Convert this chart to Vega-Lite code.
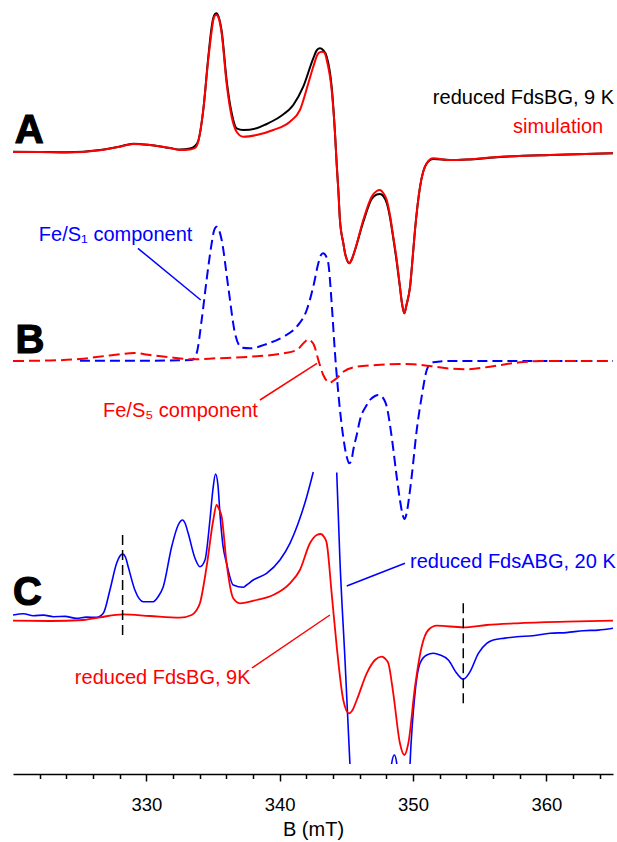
{
  "$schema": "https://vega.github.io/schema/vega-lite/v6.json",
  "autosize": {"type": "none"},
  "width": 600,
  "height": 764,
  "padding": {"left": 13, "top": 0, "right": 4, "bottom": 78},
  "background": "white",
  "config": {"view": {"stroke": null}, "font": "Liberation Sans"},
  "datasets": {
    "curves": [
      {"curve": "reduced FdsBG, 9 K", "B": 320.0, "I": 612.3}, {"curve": "reduced FdsBG, 9 K", "B": 322.02, "I": 612}, {"curve": "reduced FdsBG, 9 K", "B": 324.02, "I": 611.7}, {"curve": "reduced FdsBG, 9 K", "B": 326.52, "I": 614}, {"curve": "reduced FdsBG, 9 K", "B": 328.02, "I": 617.5}, {"curve": "reduced FdsBG, 9 K", "B": 329.02, "I": 620.3}, {"curve": "reduced FdsBG, 9 K", "B": 330.27, "I": 619}, {"curve": "reduced FdsBG, 9 K", "B": 331.77, "I": 616}, {"curve": "reduced FdsBG, 9 K", "B": 332.52, "I": 614.5}, {"curve": "reduced FdsBG, 9 K", "B": 333.27, "I": 615.5}, {"curve": "reduced FdsBG, 9 K", "B": 333.65, "I": 618}, {"curve": "reduced FdsBG, 9 K", "B": 333.89, "I": 623}, {"curve": "reduced FdsBG, 9 K", "B": 334.27, "I": 654}, {"curve": "reduced FdsBG, 9 K", "B": 334.64, "I": 706}, {"curve": "reduced FdsBG, 9 K", "B": 334.9, "I": 737}, {"curve": "reduced FdsBG, 9 K", "B": 335.02, "I": 746}, {"curve": "reduced FdsBG, 9 K", "B": 335.15, "I": 750}, {"curve": "reduced FdsBG, 9 K", "B": 335.27, "I": 750.7}, {"curve": "reduced FdsBG, 9 K", "B": 335.4, "I": 748}, {"curve": "reduced FdsBG, 9 K", "B": 335.65, "I": 733}, {"curve": "reduced FdsBG, 9 K", "B": 336.02, "I": 684}, {"curve": "reduced FdsBG, 9 K", "B": 336.4, "I": 651}, {"curve": "reduced FdsBG, 9 K", "B": 336.77, "I": 635.7}, {"curve": "reduced FdsBG, 9 K", "B": 337.27, "I": 634}, {"curve": "reduced FdsBG, 9 K", "B": 338.27, "I": 635.7}, {"curve": "reduced FdsBG, 9 K", "B": 339.02, "I": 640}, {"curve": "reduced FdsBG, 9 K", "B": 340.02, "I": 647.3}, {"curve": "reduced FdsBG, 9 K", "B": 341.02, "I": 659}, {"curve": "reduced FdsBG, 9 K", "B": 341.77, "I": 677.3}, {"curve": "reduced FdsBG, 9 K", "B": 342.52, "I": 705.7}, {"curve": "reduced FdsBG, 9 K", "B": 342.8, "I": 714}, {"curve": "reduced FdsBG, 9 K", "B": 343.02, "I": 715.7}, {"curve": "reduced FdsBG, 9 K", "B": 343.25, "I": 714}, {"curve": "reduced FdsBG, 9 K", "B": 343.53, "I": 707.3}, {"curve": "reduced FdsBG, 9 K", "B": 343.9, "I": 677.3}, {"curve": "reduced FdsBG, 9 K", "B": 344.15, "I": 630.7}, {"curve": "reduced FdsBG, 9 K", "B": 344.28, "I": 599}, {"curve": "reduced FdsBG, 9 K", "B": 344.4, "I": 574}, {"curve": "reduced FdsBG, 9 K", "B": 344.52, "I": 544}, {"curve": "reduced FdsBG, 9 K", "B": 344.77, "I": 521}, {"curve": "reduced FdsBG, 9 K", "B": 344.9, "I": 511}, {"curve": "reduced FdsBG, 9 K", "B": 345.05, "I": 504}, {"curve": "reduced FdsBG, 9 K", "B": 345.22, "I": 500.7}, {"curve": "reduced FdsBG, 9 K", "B": 345.42, "I": 505}, {"curve": "reduced FdsBG, 9 K", "B": 345.65, "I": 514}, {"curve": "reduced FdsBG, 9 K", "B": 346.27, "I": 542}, {"curve": "reduced FdsBG, 9 K", "B": 346.9, "I": 565}, {"curve": "reduced FdsBG, 9 K", "B": 347.28, "I": 569.5}, {"curve": "reduced FdsBG, 9 K", "B": 347.52, "I": 570}, {"curve": "reduced FdsBG, 9 K", "B": 347.77, "I": 568}, {"curve": "reduced FdsBG, 9 K", "B": 348.03, "I": 561}, {"curve": "reduced FdsBG, 9 K", "B": 348.27, "I": 547}, {"curve": "reduced FdsBG, 9 K", "B": 348.52, "I": 526}, {"curve": "reduced FdsBG, 9 K", "B": 348.78, "I": 502}, {"curve": "reduced FdsBG, 9 K", "B": 349.02, "I": 477}, {"curve": "reduced FdsBG, 9 K", "B": 349.17, "I": 461}, {"curve": "reduced FdsBG, 9 K", "B": 349.35, "I": 450.7}, {"curve": "reduced FdsBG, 9 K", "B": 349.51, "I": 459}, {"curve": "reduced FdsBG, 9 K", "B": 349.78, "I": 477.3}, {"curve": "reduced FdsBG, 9 K", "B": 349.96, "I": 504}, {"curve": "reduced FdsBG, 9 K", "B": 350.15, "I": 534}, {"curve": "reduced FdsBG, 9 K", "B": 350.53, "I": 577.3}, {"curve": "reduced FdsBG, 9 K", "B": 351.03, "I": 600.7}, {"curve": "reduced FdsBG, 9 K", "B": 351.52, "I": 605}, {"curve": "reduced FdsBG, 9 K", "B": 352.78, "I": 604}, {"curve": "reduced FdsBG, 9 K", "B": 354.03, "I": 604.5}, {"curve": "reduced FdsBG, 9 K", "B": 356.53, "I": 607}, {"curve": "reduced FdsBG, 9 K", "B": 360.28, "I": 609}, {"curve": "reduced FdsBG, 9 K", "B": 365.0, "I": 610.7},

      {"curve": "simulation", "B": 320.0, "I": 612}, {"curve": "simulation", "B": 322.02, "I": 612}, {"curve": "simulation", "B": 324.02, "I": 611.5}, {"curve": "simulation", "B": 326.52, "I": 613.8}, {"curve": "simulation", "B": 328.02, "I": 617.3}, {"curve": "simulation", "B": 329.02, "I": 620}, {"curve": "simulation", "B": 330.27, "I": 619}, {"curve": "simulation", "B": 331.77, "I": 616}, {"curve": "simulation", "B": 332.52, "I": 614}, {"curve": "simulation", "B": 333.27, "I": 614.5}, {"curve": "simulation", "B": 333.65, "I": 616}, {"curve": "simulation", "B": 333.89, "I": 622.3}, {"curve": "simulation", "B": 334.27, "I": 654}, {"curve": "simulation", "B": 334.64, "I": 704}, {"curve": "simulation", "B": 334.9, "I": 733}, {"curve": "simulation", "B": 335.02, "I": 744}, {"curve": "simulation", "B": 335.15, "I": 748.5}, {"curve": "simulation", "B": 335.27, "I": 749}, {"curve": "simulation", "B": 335.4, "I": 747}, {"curve": "simulation", "B": 335.65, "I": 730.7}, {"curve": "simulation", "B": 336.02, "I": 680.7}, {"curve": "simulation", "B": 336.4, "I": 647.3}, {"curve": "simulation", "B": 336.77, "I": 632.3}, {"curve": "simulation", "B": 337.27, "I": 627.3}, {"curve": "simulation", "B": 338.27, "I": 629}, {"curve": "simulation", "B": 339.52, "I": 634}, {"curve": "simulation", "B": 340.77, "I": 642.3}, {"curve": "simulation", "B": 341.52, "I": 654}, {"curve": "simulation", "B": 342.15, "I": 680.7}, {"curve": "simulation", "B": 342.52, "I": 697.3}, {"curve": "simulation", "B": 342.9, "I": 710.7}, {"curve": "simulation", "B": 343.15, "I": 712.3}, {"curve": "simulation", "B": 343.35, "I": 711.5}, {"curve": "simulation", "B": 343.53, "I": 704}, {"curve": "simulation", "B": 343.9, "I": 674}, {"curve": "simulation", "B": 344.15, "I": 630.7}, {"curve": "simulation", "B": 344.28, "I": 599}, {"curve": "simulation", "B": 344.4, "I": 574}, {"curve": "simulation", "B": 344.52, "I": 544}, {"curve": "simulation", "B": 344.77, "I": 521}, {"curve": "simulation", "B": 344.9, "I": 511}, {"curve": "simulation", "B": 345.05, "I": 504}, {"curve": "simulation", "B": 345.22, "I": 500.7}, {"curve": "simulation", "B": 345.42, "I": 505}, {"curve": "simulation", "B": 345.65, "I": 514}, {"curve": "simulation", "B": 346.27, "I": 544}, {"curve": "simulation", "B": 346.9, "I": 567.3}, {"curve": "simulation", "B": 347.28, "I": 573}, {"curve": "simulation", "B": 347.52, "I": 574}, {"curve": "simulation", "B": 347.77, "I": 571}, {"curve": "simulation", "B": 348.03, "I": 564}, {"curve": "simulation", "B": 348.27, "I": 549}, {"curve": "simulation", "B": 348.52, "I": 527.3}, {"curve": "simulation", "B": 348.78, "I": 504}, {"curve": "simulation", "B": 349.02, "I": 477.3}, {"curve": "simulation", "B": 349.17, "I": 461}, {"curve": "simulation", "B": 349.35, "I": 450.7}, {"curve": "simulation", "B": 349.51, "I": 459}, {"curve": "simulation", "B": 349.78, "I": 477.3}, {"curve": "simulation", "B": 349.96, "I": 504}, {"curve": "simulation", "B": 350.15, "I": 534}, {"curve": "simulation", "B": 350.53, "I": 577.3}, {"curve": "simulation", "B": 351.03, "I": 600.7}, {"curve": "simulation", "B": 351.52, "I": 605.7}, {"curve": "simulation", "B": 352.78, "I": 604}, {"curve": "simulation", "B": 354.03, "I": 604.5}, {"curve": "simulation", "B": 356.53, "I": 607.3}, {"curve": "simulation", "B": 360.28, "I": 609}, {"curve": "simulation", "B": 365.0, "I": 610.7},

      {"curve": "Fe/S₁ component", "B": 325.02, "I": 403.3}, {"curve": "Fe/S₁ component", "B": 330.27, "I": 403.3}, {"curve": "Fe/S₁ component", "B": 333.4, "I": 404}, {"curve": "Fe/S₁ component", "B": 333.77, "I": 410.7}, {"curve": "Fe/S₁ component", "B": 334.15, "I": 444}, {"curve": "Fe/S₁ component", "B": 334.52, "I": 484}, {"curve": "Fe/S₁ component", "B": 334.9, "I": 520.7}, {"curve": "Fe/S₁ component", "B": 335.07, "I": 533}, {"curve": "Fe/S₁ component", "B": 335.27, "I": 537.3}, {"curve": "Fe/S₁ component", "B": 335.45, "I": 534}, {"curve": "Fe/S₁ component", "B": 335.65, "I": 524}, {"curve": "Fe/S₁ component", "B": 336.14, "I": 477.3}, {"curve": "Fe/S₁ component", "B": 336.65, "I": 430.7}, {"curve": "Fe/S₁ component", "B": 337.15, "I": 416.3}, {"curve": "Fe/S₁ component", "B": 337.77, "I": 415.7}, {"curve": "Fe/S₁ component", "B": 339.02, "I": 420}, {"curve": "Fe/S₁ component", "B": 340.27, "I": 427.3}, {"curve": "Fe/S₁ component", "B": 341.28, "I": 437.3}, {"curve": "Fe/S₁ component", "B": 342.03, "I": 454}, {"curve": "Fe/S₁ component", "B": 342.52, "I": 477.3}, {"curve": "Fe/S₁ component", "B": 342.9, "I": 500.7}, {"curve": "Fe/S₁ component", "B": 343.1, "I": 509}, {"curve": "Fe/S₁ component", "B": 343.27, "I": 510.7}, {"curve": "Fe/S₁ component", "B": 343.47, "I": 508}, {"curve": "Fe/S₁ component", "B": 343.65, "I": 500.7}, {"curve": "Fe/S₁ component", "B": 343.9, "I": 460.7}, {"curve": "Fe/S₁ component", "B": 344.15, "I": 410.7}, {"curve": "Fe/S₁ component", "B": 344.4, "I": 370.7}, {"curve": "Fe/S₁ component", "B": 344.73, "I": 330.7}, {"curve": "Fe/S₁ component", "B": 345.03, "I": 307.3}, {"curve": "Fe/S₁ component", "B": 345.22, "I": 300.7}, {"curve": "Fe/S₁ component", "B": 345.39, "I": 304}, {"curve": "Fe/S₁ component", "B": 345.52, "I": 314}, {"curve": "Fe/S₁ component", "B": 345.78, "I": 329}, {"curve": "Fe/S₁ component", "B": 346.02, "I": 344}, {"curve": "Fe/S₁ component", "B": 346.53, "I": 359}, {"curve": "Fe/S₁ component", "B": 346.77, "I": 364}, {"curve": "Fe/S₁ component", "B": 347.15, "I": 368}, {"curve": "Fe/S₁ component", "B": 347.4, "I": 369}, {"curve": "Fe/S₁ component", "B": 347.65, "I": 367.5}, {"curve": "Fe/S₁ component", "B": 348.03, "I": 357.3}, {"curve": "Fe/S₁ component", "B": 348.4, "I": 327.3}, {"curve": "Fe/S₁ component", "B": 348.78, "I": 287}, {"curve": "Fe/S₁ component", "B": 349.02, "I": 264}, {"curve": "Fe/S₁ component", "B": 349.21, "I": 250}, {"curve": "Fe/S₁ component", "B": 349.36, "I": 245}, {"curve": "Fe/S₁ component", "B": 349.51, "I": 250}, {"curve": "Fe/S₁ component", "B": 349.7, "I": 266}, {"curve": "Fe/S₁ component", "B": 349.9, "I": 287.3}, {"curve": "Fe/S₁ component", "B": 350.28, "I": 334}, {"curve": "Fe/S₁ component", "B": 350.65, "I": 367.3}, {"curve": "Fe/S₁ component", "B": 351.03, "I": 394}, {"curve": "Fe/S₁ component", "B": 351.28, "I": 400}, {"curve": "Fe/S₁ component", "B": 351.52, "I": 401.7}, {"curve": "Fe/S₁ component", "B": 352.53, "I": 403}, {"curve": "Fe/S₁ component", "B": 357.52, "I": 403}, {"curve": "Fe/S₁ component", "B": 365.0, "I": 403},

      {"curve": "Fe/S₅ component", "B": 320.0, "I": 403}, {"curve": "Fe/S₅ component", "B": 322.77, "I": 403.5}, {"curve": "Fe/S₅ component", "B": 325.02, "I": 405}, {"curve": "Fe/S₅ component", "B": 326.89, "I": 408}, {"curve": "Fe/S₅ component", "B": 328.02, "I": 409.8}, {"curve": "Fe/S₅ component", "B": 329.07, "I": 411}, {"curve": "Fe/S₅ component", "B": 330.27, "I": 409}, {"curve": "Fe/S₅ component", "B": 331.77, "I": 406.7}, {"curve": "Fe/S₅ component", "B": 333.52, "I": 404.7}, {"curve": "Fe/S₅ component", "B": 335.27, "I": 405.7}, {"curve": "Fe/S₅ component", "B": 337.77, "I": 407.3}, {"curve": "Fe/S₅ component", "B": 340.27, "I": 410.7}, {"curve": "Fe/S₅ component", "B": 341.28, "I": 414}, {"curve": "Fe/S₅ component", "B": 341.9, "I": 422.3}, {"curve": "Fe/S₅ component", "B": 342.12, "I": 424.5}, {"curve": "Fe/S₅ component", "B": 342.27, "I": 424}, {"curve": "Fe/S₅ component", "B": 342.42, "I": 422}, {"curve": "Fe/S₅ component", "B": 342.57, "I": 419}, {"curve": "Fe/S₅ component", "B": 342.9, "I": 404}, {"curve": "Fe/S₅ component", "B": 343.27, "I": 389}, {"curve": "Fe/S₅ component", "B": 343.55, "I": 383}, {"curve": "Fe/S₅ component", "B": 343.77, "I": 381.3}, {"curve": "Fe/S₅ component", "B": 344.0, "I": 383}, {"curve": "Fe/S₅ component", "B": 344.28, "I": 385.7}, {"curve": "Fe/S₅ component", "B": 344.77, "I": 392.3}, {"curve": "Fe/S₅ component", "B": 345.78, "I": 397.3}, {"curve": "Fe/S₅ component", "B": 347.28, "I": 399}, {"curve": "Fe/S₅ component", "B": 349.02, "I": 400}, {"curve": "Fe/S₅ component", "B": 350.02, "I": 399.7}, {"curve": "Fe/S₅ component", "B": 351.28, "I": 398}, {"curve": "Fe/S₅ component", "B": 352.53, "I": 395.7}, {"curve": "Fe/S₅ component", "B": 354.03, "I": 394.7}, {"curve": "Fe/S₅ component", "B": 355.78, "I": 397.3}, {"curve": "Fe/S₅ component", "B": 358.03, "I": 401.7}, {"curve": "Fe/S₅ component", "B": 360.03, "I": 403}, {"curve": "Fe/S₅ component", "B": 365.0, "I": 403},

      {"curve": "reduced FdsABG, 20 K", "seg": 1, "B": 320.0, "I": 149}, {"curve": "reduced FdsABG, 20 K", "seg": 1, "B": 320.8, "I": 150.2}, {"curve": "reduced FdsABG, 20 K", "seg": 1, "B": 321.52, "I": 148.3}, {"curve": "reduced FdsABG, 20 K", "seg": 1, "B": 322.3, "I": 148.9}, {"curve": "reduced FdsABG, 20 K", "seg": 1, "B": 323.02, "I": 147.3}, {"curve": "reduced FdsABG, 20 K", "seg": 1, "B": 323.9, "I": 147.6}, {"curve": "reduced FdsABG, 20 K", "seg": 1, "B": 324.77, "I": 145.7}, {"curve": "reduced FdsABG, 20 K", "seg": 1, "B": 325.5, "I": 146.9}, {"curve": "reduced FdsABG, 20 K", "seg": 1, "B": 326.27, "I": 146.7}, {"curve": "reduced FdsABG, 20 K", "seg": 1, "B": 326.77, "I": 150.7}, {"curve": "reduced FdsABG, 20 K", "seg": 1, "B": 327.27, "I": 174}, {"curve": "reduced FdsABG, 20 K", "seg": 1, "B": 327.77, "I": 200.7}, {"curve": "reduced FdsABG, 20 K", "seg": 1, "B": 328.02, "I": 208}, {"curve": "reduced FdsABG, 20 K", "seg": 1, "B": 328.22, "I": 210}, {"curve": "reduced FdsABG, 20 K", "seg": 1, "B": 328.43, "I": 207}, {"curve": "reduced FdsABG, 20 K", "seg": 1, "B": 328.64, "I": 197.3}, {"curve": "reduced FdsABG, 20 K", "seg": 1, "B": 329.14, "I": 174}, {"curve": "reduced FdsABG, 20 K", "seg": 1, "B": 329.77, "I": 162.3}, {"curve": "reduced FdsABG, 20 K", "seg": 1, "B": 330.52, "I": 162.3}, {"curve": "reduced FdsABG, 20 K", "seg": 1, "B": 330.87, "I": 167}, {"curve": "reduced FdsABG, 20 K", "seg": 1, "B": 331.27, "I": 177.3}, {"curve": "reduced FdsABG, 20 K", "seg": 1, "B": 331.9, "I": 217.3}, {"curve": "reduced FdsABG, 20 K", "seg": 1, "B": 332.39, "I": 239}, {"curve": "reduced FdsABG, 20 K", "seg": 1, "B": 332.72, "I": 244}, {"curve": "reduced FdsABG, 20 K", "seg": 1, "B": 332.9, "I": 241}, {"curve": "reduced FdsABG, 20 K", "seg": 1, "B": 333.14, "I": 230.7}, {"curve": "reduced FdsABG, 20 K", "seg": 1, "B": 333.65, "I": 205.7}, {"curve": "reduced FdsABG, 20 K", "seg": 1, "B": 334.02, "I": 197.3}, {"curve": "reduced FdsABG, 20 K", "seg": 1, "B": 334.4, "I": 204}, {"curve": "reduced FdsABG, 20 K", "seg": 1, "B": 334.77, "I": 244}, {"curve": "reduced FdsABG, 20 K", "seg": 1, "B": 334.99, "I": 274}, {"curve": "reduced FdsABG, 20 K", "seg": 1, "B": 335.19, "I": 290}, {"curve": "reduced FdsABG, 20 K", "seg": 1, "B": 335.37, "I": 279}, {"curve": "reduced FdsABG, 20 K", "seg": 1, "B": 335.52, "I": 250.7}, {"curve": "reduced FdsABG, 20 K", "seg": 1, "B": 335.74, "I": 219}, {"curve": "reduced FdsABG, 20 K", "seg": 1, "B": 336.02, "I": 200.7}, {"curve": "reduced FdsABG, 20 K", "seg": 1, "B": 336.52, "I": 179}, {"curve": "reduced FdsABG, 20 K", "seg": 1, "B": 337.27, "I": 176.7}, {"curve": "reduced FdsABG, 20 K", "seg": 1, "B": 337.52, "I": 179}, {"curve": "reduced FdsABG, 20 K", "seg": 1, "B": 338.02, "I": 184}, {"curve": "reduced FdsABG, 20 K", "seg": 1, "B": 339.02, "I": 190.7}, {"curve": "reduced FdsABG, 20 K", "seg": 1, "B": 340.02, "I": 204}, {"curve": "reduced FdsABG, 20 K", "seg": 1, "B": 340.77, "I": 220.7}, {"curve": "reduced FdsABG, 20 K", "seg": 1, "B": 341.52, "I": 245.7}, {"curve": "reduced FdsABG, 20 K", "seg": 1, "B": 342.03, "I": 267.3}, {"curve": "reduced FdsABG, 20 K", "seg": 1, "B": 342.52, "I": 292},
      {"curve": "reduced FdsABG, 20 K", "seg": 2, "B": 344.28, "I": 291.5}, {"curve": "reduced FdsABG, 20 K", "seg": 2, "B": 344.52, "I": 204}, {"curve": "reduced FdsABG, 20 K", "seg": 2, "B": 344.9, "I": 104}, {"curve": "reduced FdsABG, 20 K", "seg": 2, "B": 345.27, "I": 0}, {"curve": "reduced FdsABG, 20 K", "seg": 2, "B": 345.65, "I": -116}, {"curve": "reduced FdsABG, 20 K", "seg": 2, "B": 346.77, "I": -186}, {"curve": "reduced FdsABG, 20 K", "seg": 2, "B": 347.9, "I": -116}, {"curve": "reduced FdsABG, 20 K", "seg": 2, "B": 348.4, "I": 0.7}, {"curve": "reduced FdsABG, 20 K", "seg": 2, "B": 348.6, "I": 9}, {"curve": "reduced FdsABG, 20 K", "seg": 2, "B": 348.78, "I": 0.7}, {"curve": "reduced FdsABG, 20 K", "seg": 2, "B": 349.02, "I": -76}, {"curve": "reduced FdsABG, 20 K", "seg": 2, "B": 349.32, "I": -106}, {"curve": "reduced FdsABG, 20 K", "seg": 2, "B": 349.62, "I": -56}, {"curve": "reduced FdsABG, 20 K", "seg": 2, "B": 349.78, "I": 0.7}, {"curve": "reduced FdsABG, 20 K", "seg": 2, "B": 350.15, "I": 70.7}, {"curve": "reduced FdsABG, 20 K", "seg": 2, "B": 350.53, "I": 100.7}, {"curve": "reduced FdsABG, 20 K", "seg": 2, "B": 351.03, "I": 109}, {"curve": "reduced FdsABG, 20 K", "seg": 2, "B": 351.52, "I": 110.7}, {"curve": "reduced FdsABG, 20 K", "seg": 2, "B": 352.03, "I": 109}, {"curve": "reduced FdsABG, 20 K", "seg": 2, "B": 352.65, "I": 104}, {"curve": "reduced FdsABG, 20 K", "seg": 2, "B": 353.28, "I": 90.7}, {"curve": "reduced FdsABG, 20 K", "seg": 2, "B": 353.77, "I": 84.7}, {"curve": "reduced FdsABG, 20 K", "seg": 2, "B": 354.28, "I": 92.3}, {"curve": "reduced FdsABG, 20 K", "seg": 2, "B": 354.9, "I": 110.7}, {"curve": "reduced FdsABG, 20 K", "seg": 2, "B": 355.53, "I": 120.7}, {"curve": "reduced FdsABG, 20 K", "seg": 2, "B": 356.02, "I": 124}, {"curve": "reduced FdsABG, 20 K", "seg": 2, "B": 356.9, "I": 125.9}, {"curve": "reduced FdsABG, 20 K", "seg": 2, "B": 357.78, "I": 127.3}, {"curve": "reduced FdsABG, 20 K", "seg": 2, "B": 359.0, "I": 128.2}, {"curve": "reduced FdsABG, 20 K", "seg": 2, "B": 360.28, "I": 130.7}, {"curve": "reduced FdsABG, 20 K", "seg": 2, "B": 361.5, "I": 131.4}, {"curve": "reduced FdsABG, 20 K", "seg": 2, "B": 362.78, "I": 133.3}, {"curve": "reduced FdsABG, 20 K", "seg": 2, "B": 363.9, "I": 133.9}, {"curve": "reduced FdsABG, 20 K", "seg": 2, "B": 365.0, "I": 135.7},

      {"curve": "reduced FdsBG, 9K", "B": 320.0, "I": 143.3}, {"curve": "reduced FdsBG, 9K", "B": 322.77, "I": 143}, {"curve": "reduced FdsBG, 9K", "B": 325.27, "I": 144}, {"curve": "reduced FdsBG, 9K", "B": 326.52, "I": 146.7}, {"curve": "reduced FdsBG, 9K", "B": 328.27, "I": 149.7}, {"curve": "reduced FdsBG, 9K", "B": 330.27, "I": 148}, {"curve": "reduced FdsBG, 9K", "B": 332.52, "I": 146.3}, {"curve": "reduced FdsBG, 9K", "B": 333.4, "I": 149}, {"curve": "reduced FdsBG, 9K", "B": 333.72, "I": 153}, {"curve": "reduced FdsBG, 9K", "B": 334.02, "I": 160.7}, {"curve": "reduced FdsBG, 9K", "B": 334.52, "I": 197.3}, {"curve": "reduced FdsBG, 9K", "B": 335.02, "I": 244}, {"curve": "reduced FdsBG, 9K", "B": 335.27, "I": 259}, {"curve": "reduced FdsBG, 9K", "B": 335.45, "I": 255}, {"curve": "reduced FdsBG, 9K", "B": 335.65, "I": 247.3}, {"curve": "reduced FdsBG, 9K", "B": 336.02, "I": 200.7}, {"curve": "reduced FdsBG, 9K", "B": 336.52, "I": 165.7}, {"curve": "reduced FdsBG, 9K", "B": 337.02, "I": 160.7}, {"curve": "reduced FdsBG, 9K", "B": 338.27, "I": 164}, {"curve": "reduced FdsBG, 9K", "B": 339.52, "I": 169}, {"curve": "reduced FdsBG, 9K", "B": 340.77, "I": 180.7}, {"curve": "reduced FdsBG, 9K", "B": 341.52, "I": 194}, {"curve": "reduced FdsBG, 9K", "B": 342.27, "I": 220.7}, {"curve": "reduced FdsBG, 9K", "B": 342.78, "I": 229}, {"curve": "reduced FdsBG, 9K", "B": 343.08, "I": 230}, {"curve": "reduced FdsBG, 9K", "B": 343.33, "I": 227}, {"curve": "reduced FdsBG, 9K", "B": 343.53, "I": 220.7}, {"curve": "reduced FdsBG, 9K", "B": 343.9, "I": 170.7}, {"curve": "reduced FdsBG, 9K", "B": 344.28, "I": 117.3}, {"curve": "reduced FdsBG, 9K", "B": 344.77, "I": 64}, {"curve": "reduced FdsBG, 9K", "B": 345.2, "I": 50.7}, {"curve": "reduced FdsBG, 9K", "B": 345.42, "I": 53}, {"curve": "reduced FdsBG, 9K", "B": 345.78, "I": 64}, {"curve": "reduced FdsBG, 9K", "B": 346.53, "I": 90.7}, {"curve": "reduced FdsBG, 9K", "B": 347.15, "I": 104}, {"curve": "reduced FdsBG, 9K", "B": 347.65, "I": 107.3}, {"curve": "reduced FdsBG, 9K", "B": 347.9, "I": 105.5}, {"curve": "reduced FdsBG, 9K", "B": 348.15, "I": 100.7}, {"curve": "reduced FdsBG, 9K", "B": 348.52, "I": 70.7}, {"curve": "reduced FdsBG, 9K", "B": 349.02, "I": 20.7}, {"curve": "reduced FdsBG, 9K", "B": 349.35, "I": 9}, {"curve": "reduced FdsBG, 9K", "B": 349.65, "I": 20.7}, {"curve": "reduced FdsBG, 9K", "B": 350.15, "I": 77.3}, {"curve": "reduced FdsBG, 9K", "B": 350.65, "I": 117.3}, {"curve": "reduced FdsBG, 9K", "B": 351.15, "I": 134}, {"curve": "reduced FdsBG, 9K", "B": 351.78, "I": 138.3}, {"curve": "reduced FdsBG, 9K", "B": 353.77, "I": 136.7}, {"curve": "reduced FdsBG, 9K", "B": 355.53, "I": 139}, {"curve": "reduced FdsBG, 9K", "B": 357.78, "I": 140.7}, {"curve": "reduced FdsBG, 9K", "B": 361.53, "I": 142.3}, {"curve": "reduced FdsBG, 9K", "B": 365.0, "I": 143.3}
    ],
    "leaders": [
      {"curve": "Fe/S₁ component", "B": 329.37, "I": 515.7, "B2": 334.08, "I2": 464},
      {"curve": "Fe/S₅ component", "B": 338.52, "I": 364, "B2": 342.8, "I2": 400.7},
      {"curve": "reduced FdsABG, 20 K", "B": 345.03, "I": 178, "B2": 349.4, "I2": 200.7},
      {"curve": "reduced FdsBG, 9K", "B": 337.92, "I": 96, "B2": 343.77, "I2": 149}
    ],
    "markers": [
      {"B": 328.22, "I": 229, "I2": 125.7},
      {"B": 353.77, "I": 160.7, "I2": 57.3}
    ],
    "labelsLeft": [
      {"curve": "Fe/S₁ component", "B": 321.94, "I": 529},
      {"curve": "Fe/S₅ component", "B": 326.75, "I": 353},
      {"curve": "reduced FdsABG, 20 K", "B": 349.78, "I": 202},
      {"curve": "reduced FdsBG, 9K", "B": 324.64, "I": 86}
    ],
    "labelsRight": [
      {"curve": "reduced FdsBG, 9 K", "B": 365.08, "I": 666},
      {"curve": "simulation", "B": 364.26, "I": 637}
    ],
    "panels": [
      {"panel": "A", "B": 320.13, "I": 621.3},
      {"panel": "B", "B": 320.18, "I": 411},
      {"panel": "C", "B": 320.0, "I": 159}
    ]
  },
  "encoding": {
    "x": {
      "field": "B", "type": "quantitative",
      "scale": {"domain": [320, 365], "nice": false, "zero": false},
      "axis": {
        "values": [322, 324, 326, 328, 330, 332, 334, 336, 338, 340, 342, 344, 346, 348, 350, 352, 354, 356, 358, 360, 362, 364],
        "labelExpr": "datum.value % 10 === 0 ? datum.label : ''",
        "format": "d",
        "tickSize": {"condition": {"test": "datum.value % 10 === 0", "value": 7}, "value": 4.5},
        "tickWidth": 1.5, "tickColor": "black",
        "domainColor": "black", "domainWidth": 1.5,
        "grid": false, "offset": 10,
        "labelFont": "Liberation Sans", "labelFontSize": 18.5, "labelColor": "black", "labelPadding": 14,
        "labelOverlap": false, "labelFlush": false,
        "title": "B (mT)", "titleFont": "Liberation Sans", "titleFontSize": 20, "titleFontWeight": "normal", "titleColor": "black", "titlePadding": 6
      }
    },
    "y": {
      "field": "I", "type": "quantitative",
      "scale": {"domain": [0, 764], "nice": false, "zero": false},
      "axis": null
    },
    "color": {
      "field": "curve", "type": "nominal", "legend": null,
      "scale": {
        "domain": ["reduced FdsBG, 9 K", "simulation", "Fe/S₁ component", "Fe/S₅ component", "reduced FdsABG, 20 K", "reduced FdsBG, 9K"],
        "range": ["#000000", "#ff0000", "#0000ff", "#ff0000", "#0000ff", "#ff0000"]
      }
    }
  },
  "layer": [
    {"data": {"name": "curves"}, "transform": [{"filter": {"field": "curve", "equal": "reduced FdsBG, 9 K"}}],
     "mark": {"type": "line", "interpolate": "monotone", "strokeWidth": 2, "clip": true}},
    {"data": {"name": "curves"}, "transform": [{"filter": {"field": "curve", "equal": "simulation"}}],
     "mark": {"type": "line", "interpolate": "monotone", "strokeWidth": 2, "clip": true}},
    {"data": {"name": "curves"}, "transform": [{"filter": {"field": "curve", "equal": "Fe/S₁ component"}}],
     "mark": {"type": "line", "interpolate": "monotone", "strokeWidth": 2, "strokeDash": [10, 5], "clip": true}},
    {"data": {"name": "curves"}, "transform": [{"filter": {"field": "curve", "equal": "Fe/S₅ component"}}],
     "mark": {"type": "line", "interpolate": "monotone", "strokeWidth": 2, "strokeDash": [11, 5], "clip": true}},
    {"data": {"name": "curves"}, "transform": [{"filter": {"field": "curve", "equal": "reduced FdsABG, 20 K"}}],
     "mark": {"type": "line", "interpolate": "monotone", "strokeWidth": 1.6, "clip": true},
     "encoding": {"detail": {"field": "seg", "type": "nominal"}}},
    {"data": {"name": "curves"}, "transform": [{"filter": {"field": "curve", "equal": "reduced FdsBG, 9K"}}],
     "mark": {"type": "line", "interpolate": "monotone", "strokeWidth": 1.8, "clip": true}},
    {"data": {"name": "markers"},
     "mark": {"type": "rule", "color": "black", "strokeWidth": 1.5, "strokeDash": [10, 5]},
     "encoding": {"y2": {"field": "I2"}, "color": {"value": "black"}}},
    {"data": {"name": "leaders"},
     "mark": {"type": "rule", "strokeWidth": 1.5},
     "encoding": {"x2": {"field": "B2"}, "y2": {"field": "I2"}}},
    {"data": {"name": "labelsLeft"},
     "mark": {"type": "text", "align": "left", "baseline": "middle", "fontSize": 20, "font": "Liberation Sans"},
     "encoding": {"text": {"field": "curve"}}},
    {"data": {"name": "labelsRight"},
     "mark": {"type": "text", "align": "right", "baseline": "middle", "fontSize": 20, "font": "Liberation Sans"},
     "encoding": {"text": {"field": "curve"}}},
    {"data": {"name": "panels"},
     "mark": {"type": "text", "align": "left", "baseline": "alphabetic", "fontSize": 40, "fontWeight": "bold", "font": "Liberation Sans", "stroke": "black", "strokeWidth": 1.2},
     "encoding": {"text": {"field": "panel"}, "color": {"value": "black"}}}
  ]
}
